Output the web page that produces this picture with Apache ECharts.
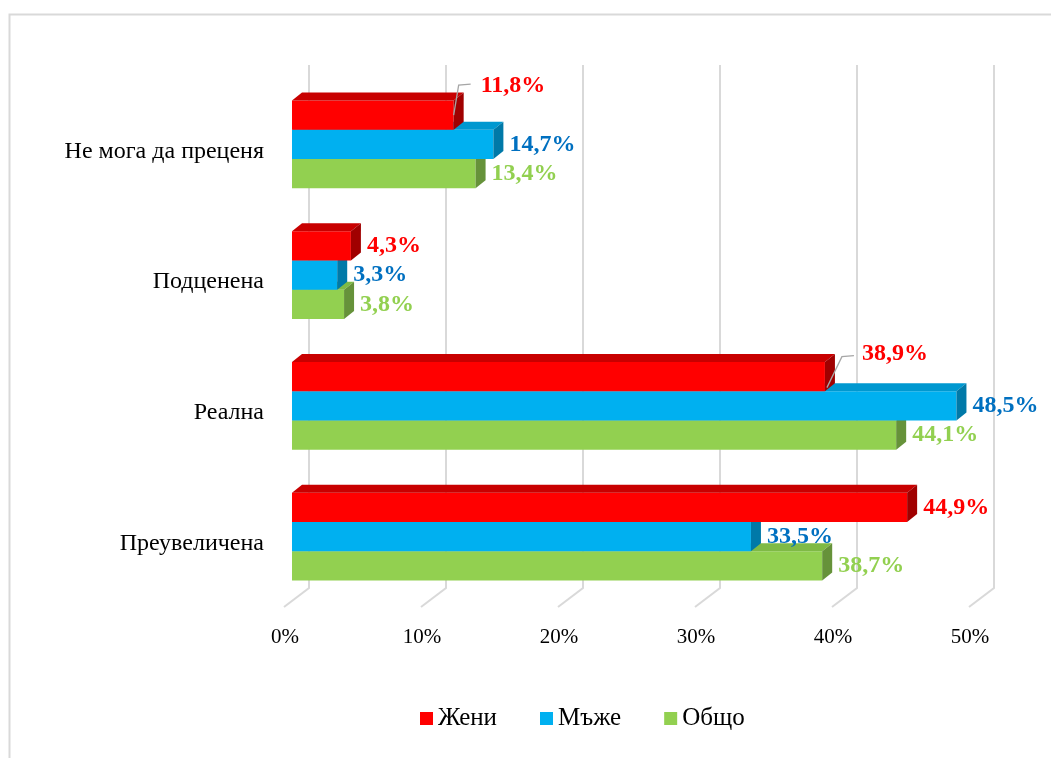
<!DOCTYPE html>
<html>
<head>
<meta charset="utf-8">
<script src="https://cdn.jsdelivr.net/npm/echarts@6/dist/echarts.min.js"></script>
<style>
  html, body { margin: 0; padding: 0; background: #fff; }
  #chart { width: 1051px; height: 758px; }
</style>
</head>
<body>
<div id="chart"></div>
<script>
// Categories listed bottom-to-top along the vertical axis
const categories = ['Преувеличена', 'Реална', 'Подценена', 'Не мога да преценя'];
const women = [44.9, 38.9, 4.3, 11.8];
const men = [33.5, 48.5, 3.3, 14.7];
const total = [38.7, 44.1, 3.8, 13.4];
const ticks = [0, 10, 20, 30, 40, 50];
const seriesNames = ['Жени', 'Мъже', 'Общо'];

const FONT = '"Liberation Serif", "Times New Roman", serif';
const DX = 10, DY = 8;          // extrusion of each bar (depth)
const BAR_FRAC = 0.2235;        // bar thickness as a share of the category band

const palettes = [
  { front: '#FF0000', top: '#C80000', side: '#A00000', label: '#FF0000' },
  { front: '#00B0F0', top: '#0098D0', side: '#0079A8', label: '#0070C0' },
  { front: '#92D050', top: '#7FBA45', side: '#66923A', label: '#92D050' }
];

// Labels that are pulled away from their bar with a leader line (by data index)
const leaderLabels = {
  3: { leader: [[0, 0], [5, -30], [17, -31]], text: [27, -29] },
  1: { leader: [[2, 11], [17, -20], [29, -21]], text: [37, -23] }
};

function fmt(v) {
  return v.toFixed(1).replace('.', ',') + '%';
}

function makeBarRenderer(slot, pal, shifts) {
  return function (params, api) {
    const v = api.value(0);
    const c = api.value(1);
    const p0 = api.coord([0, c]);
    const p1 = api.coord([v, c]);
    const band = api.size([0, 1])[1];
    const h = band * BAR_FRAC;
    const yT = p0[1] + (slot - 0.5) * h;
    const yB = yT + h;
    const x0 = p0[0], x1 = p1[0];
    const yc = (yT + yB) / 2;
    const children = [
      { type: 'rect', shape: { x: x0, y: yT, width: x1 - x0, height: h }, style: { fill: pal.front } },
      { type: 'polygon', shape: { points: [[x0, yT], [x1, yT], [x1 + DX, yT - DY], [x0 + DX, yT - DY]] }, style: { fill: pal.top } },
      { type: 'polygon', shape: { points: [[x1, yT], [x1 + DX, yT - DY], [x1 + DX, yB - DY], [x1, yB]] }, style: { fill: pal.side } }
    ];
    const textStyle = {
      text: fmt(v),
      font: 'bold 24px ' + FONT,
      fill: pal.label,
      align: 'left',
      verticalAlign: 'middle'
    };
    const sh = shifts && shifts[params.dataIndex];
    if (sh) {
      children.push({
        type: 'polyline', z2: 90,
        shape: { points: sh.leader.map(d => [x1 + d[0], yc + d[1]]) },
        style: { stroke: '#A6A6A6', lineWidth: 1.3, fill: null }
      });
      children.push({ type: 'text', z2: 100, style: Object.assign({ x: x1 + sh.text[0], y: yc + sh.text[1] }, textStyle) });
    } else {
      children.push({ type: 'text', z2: 100, style: Object.assign({ x: x1 + DX + 6, y: yc }, textStyle) });
    }
    return { type: 'group', children };
  };
}

function barSeries(idx, values, slot, shifts) {
  return {
    name: seriesNames[idx],
    type: 'custom',
    coordinateSystem: 'cartesian2d',
    itemStyle: { color: palettes[idx].front },
    encode: { x: 0, y: 1 },
    data: values.map((v, i) => [v, i]),
    renderItem: makeBarRenderer(slot, palettes[idx], shifts),
    z: 3,
    silent: true
  };
}

// Back-wall grid lines that bend forward onto the floor
const gridSeries = {
  name: 'grid',
  type: 'custom',
  coordinateSystem: 'cartesian2d',
  encode: { x: 0, y: 1 },
  data: ticks.map(t => [t, 0]),
  z: 1,
  silent: true,
  renderItem: function (params, api) {
    const x = api.coord([api.value(0), 0])[0];
    const cs = params.coordSys;
    const top = cs.y - 14;
    const backBottom = cs.y + cs.height - 14;
    const front = cs.y + cs.height + 5;
    return {
      type: 'polyline',
      shape: { points: [[x + 17, top], [x + 17, backBottom], [x - 8, front]] },
      style: { stroke: '#D9D9D9', lineWidth: 2, fill: null }
    };
  }
};

const chart = echarts.init(document.getElementById('chart'), null, { renderer: 'canvas' });

chart.setOption({
  animation: false,
  backgroundColor: '#ffffff',
  textStyle: { fontFamily: FONT },
  graphic: [{
    type: 'rect', left: 7, top: 12, z: -10, silent: true,
    shape: { width: 1100, height: 800 },
    style: { fill: 'none', stroke: '#D9D9D9', lineWidth: 2 }
  }],
  grid: { left: 292, right: 74, top: 79, bottom: 156, containLabel: false },
  xAxis: {
    type: 'value',
    min: 0, max: 50, interval: 10,
    axisLine: { show: false },
    axisTick: { show: false },
    splitLine: { show: false },
    axisLabel: {
      formatter: '{value}%',
      margin: 25,
      padding: [0, 14, 0, 0],
      color: '#000',
      fontSize: 21,
      fontFamily: FONT
    }
  },
  yAxis: {
    type: 'category',
    data: categories,
    axisLine: { show: false },
    axisTick: { show: false },
    splitLine: { show: false },
    axisLabel: {
      margin: 28,
      formatter: '{a|{value}}',
      rich: {
        a: { padding: [14, 0, 0, 0], color: '#000', fontSize: 24, fontFamily: FONT }
      }
    }
  },
  legend: {
    data: seriesNames,
    left: 415, top: 701,
    icon: 'rect',
    itemWidth: 13, itemHeight: 13, itemGap: 43,
    textStyle: { color: '#000', fontSize: 25, fontFamily: FONT }
  },
  series: [
    gridSeries,
    barSeries(2, total, 1, null),
    barSeries(1, men, 0, null),
    barSeries(0, women, -1, leaderLabels)
  ]
});
</script>
</body>
</html>
